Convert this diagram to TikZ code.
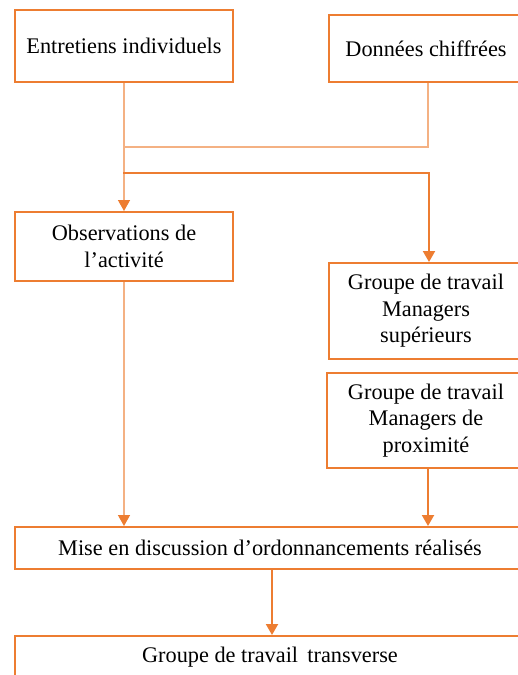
\documentclass[tikz,border=0pt]{standalone}
\usepackage{fontspec}
\setmainfont{Liberation Serif}
\usetikzlibrary{arrows.meta,calc}
\definecolor{dorange}{HTML}{ED7D31}
\definecolor{lorange}{HTML}{F4B183}
\begin{document}
\begin{tikzpicture}[x=1pt,y=-1pt,
  box/.style={draw=dorange, line width=2pt, rectangle, anchor=north west, align=center, inner sep=0pt,
    font=\fontsize{22.3}{26.5}\selectfont, text=black},
  dline/.style={draw=dorange, line width=2pt},
  lline/.style={draw=lorange, line width=1.5pt},
  tip/.style={-{Triangle[width=12pt,length=11pt,color=dorange]}}]
\useasboundingbox (0,0) rectangle (518,675);
\clip (0,0) rectangle (518,675);
\fill[white] (0,0) rectangle (518,675);
\node[box, minimum width=218pt, minimum height=72pt] (E) at (14,9) {Entretiens individuels};
\node[box, minimum width=194pt, minimum height=67pt] (D) at (328,14) {Données chiffrées};
\node[box, minimum width=218pt, minimum height=69pt] (O) at (14,211) {Observations de\\l’activité};
\node[box, minimum width=194pt, minimum height=96pt] (S) at (328,262) {Groupe de travail\\Managers\\supérieurs};
\node[box, minimum width=198pt, minimum height=95pt] (P) at (326,372) {Groupe de travail\\Managers de\\proximité};
\node[box, minimum width=510pt, minimum height=42pt] (M) at (14,526) {Mise en discussion d’ordonnancements réalisés};
\node[box, minimum width=512pt, minimum height=50pt] (T) at (14,635) {};
\node[font=\fontsize{22.3}{26.5}\selectfont, anchor=center] (Tt) at (270,657) {Groupe de travail\, transverse};
\coordinate (j1) at (123,147);
\coordinate (j2) at (123,173);
% light connectors
\draw[lline] (D.south -| 428,0) |- (j1);
\draw[lline, tip] (E.south) -- (O.north);
\draw[lline, tip] (O.south) -- (O.south |- M.north);
% dark connectors
\draw[dline, tip] (j2) -| ([xshift=3pt]S.north);
\draw[dline, tip] (P.south -| 428,0) -- (428,0 |- M.north);
\draw[dline, tip] (M.south -| 272,0) -- (272,0 |- T.north);
\end{tikzpicture}
\end{document}
